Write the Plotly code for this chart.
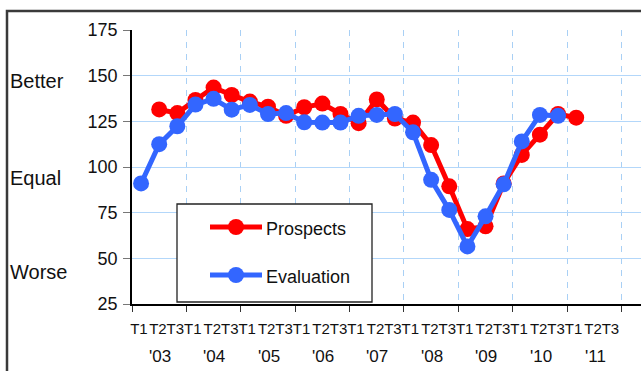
import plotly.graph_objects as go

# Survey periods: three terms per year, 2003-2011
years = ["'03", "'04", "'05", "'06", "'07", "'08", "'09", "'10", "'11"]
terms = ["T1", "T2", "T3"]
periods = [f"{t} {y}" for y in years for t in terms]

# Index values (None = no survey for that period)
prospects = [None, 131.5, 129.5, 136.7, 143.5, 139.4, 135.8, 133, 128,
             132.7, 134.7, 129, 124, 137, 126.5, 124.3, 112, 89.4,
             66, 67.5, 91, 106.6, 117.7, 129, 127, None, None]
evaluation = [91, 112.5, 122.3, 134.2, 137.3, 131.4, 134, 129, 129.5,
              124.5, 124.3, 124.3, 128, 128.5, 129, 119, 93, 76.5,
              56.5, 73, 90.5, 114, 128.5, 128, None, None, None]

y_ticks = [25, 50, 75, 100, 125, 150, 175]
side_labels = [("Better", 81), ("Equal", 178), ("Worse", 272)]

RED = "#ff0000"
BLUE = "#3366ff"
FONT = "Liberation Sans, Arial, sans-serif"

W, H = 641, 371
L, R, T, B = 132, 0, 30, 67
PW, PH = W - L - R, H - T - B
CAT_PX = 18.13  # width of one period on the x axis


def px(xp):
    return (xp - L) / PW


def py(yp):
    return (H - B - yp) / PH


x = list(range(len(periods)))
x_range = [-0.5, -0.5 + PW / CAT_PX]

fig = go.Figure()
fig.add_trace(go.Scatter(
    x=x, y=prospects, name="Prospects", mode="lines+markers",
    line=dict(color=RED, width=5), marker=dict(color=RED, size=16),
))
fig.add_trace(go.Scatter(
    x=x, y=evaluation, name="Evaluation", mode="lines+markers",
    line=dict(color=BLUE, width=5), marker=dict(color=BLUE, size=16),
))

# year boundaries carry the ticks and the dashed grid lines
boundaries = [3 * k - 0.5 for k in range(len(years) + 1)]

# term labels: "T2T3T1" packed together after each year's first term
term_pos, term_txt = [-0.12], ["T1"]
for k in range(len(years)):
    term_pos += [3 * k + 0.93, 3 * k + 1.89]
    term_txt += ["T2", "T3"]
    if k + 1 < len(years):
        term_pos.append(3 * (k + 1) - 0.15)
        term_txt.append("T1")
year_pos = [3 * k + 1.04 for k in range(len(years))]

fig.update_layout(
    width=W, height=H,
    margin=dict(l=L, r=R, t=T, b=B),
    paper_bgcolor="white", plot_bgcolor="white",
    showlegend=False,
    font=dict(family=FONT, size=18, color="#111"),
    xaxis=dict(
        range=x_range, tickmode="array", tickvals=term_pos, ticktext=term_txt,
        ticks="", showgrid=False, tickfont=dict(size=15), tickangle=0,
        ticklabelstandoff=10,
        minor=dict(tickmode="array", tickvals=boundaries, ticks="outside",
                   ticklen=6, tickcolor="#333", showgrid=True,
                   gridcolor="#a9d0f5", griddash="6px,6px", gridwidth=1.3),
        showline=True, linecolor="black", linewidth=1.5, zeroline=False,
    ),
    yaxis=dict(
        range=[25, 175], tickmode="array", tickvals=y_ticks,
        ticks="outside", ticklen=7, tickcolor="#777",
        showgrid=True, gridcolor="#b3d7fa", gridwidth=1.3,
        showline=True, linecolor="black", linewidth=1.5, zeroline=False,
        ticklabelstandoff=2, tickfont=dict(size=18),
    ),
)

shapes = [
    # outer frame
    dict(type="rect", xref="paper", yref="paper",
         x0=px(7), x1=px(W + 40), y0=py(H + 40), y1=py(11),
         line=dict(color="#3a3a3a", width=2.5), fillcolor="rgba(0,0,0,0)"),
    # legend box
    dict(type="rect", xref="paper", yref="paper",
         x0=px(177), x1=px(372), y0=py(302), y1=py(204),
         line=dict(color="#222", width=1.3), fillcolor="white"),
]
annotations = []
legend_rows = [("Prospects", RED, 227), ("Evaluation", BLUE, 275)]
for name, color, yc in legend_rows:
    shapes.append(dict(type="line", xref="paper", yref="paper",
                       x0=px(210), x1=px(262), y0=py(yc), y1=py(yc),
                       line=dict(color=color, width=5)))
    shapes.append(dict(type="circle", xref="paper", yref="paper",
                       x0=px(236 - 8), x1=px(236 + 8),
                       y0=py(yc + 8), y1=py(yc - 8),
                       line=dict(color=color, width=0), fillcolor=color))
    annotations.append(dict(text=name, xref="paper", yref="paper",
                            x=px(264), y=py(yc + 2), xanchor="left",
                            yanchor="middle", showarrow=False,
                            font=dict(size=18, color="#111")))

for text, yc in side_labels:
    annotations.append(dict(text=text, xref="paper", yref="paper",
                            x=px(8), y=py(yc), xanchor="left",
                            yanchor="middle", showarrow=False,
                            font=dict(size=20, color="#111")))

# year captions under the term labels
for pos, yr in zip(year_pos, years):
    annotations.append(dict(text=yr, xref="x", yref="paper",
                            x=pos, y=py(356), xanchor="center",
                            yanchor="middle", showarrow=False,
                            font=dict(size=17, color="#111")))

fig.update_layout(shapes=shapes, annotations=annotations)

fig.write_html("out.html")
